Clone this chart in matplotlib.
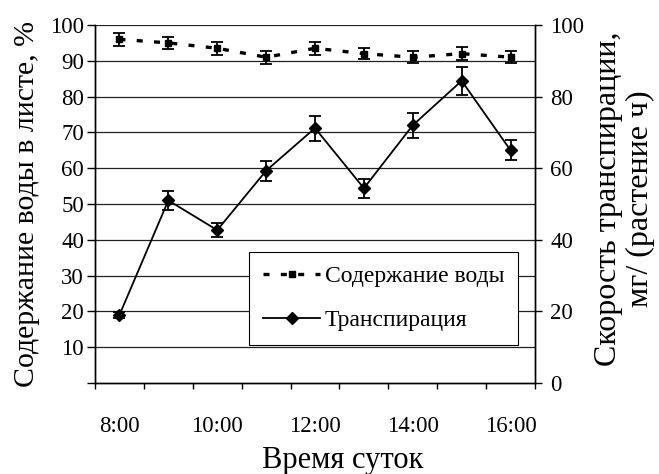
import numpy as np
import matplotlib.pyplot as plt
from matplotlib.lines import Line2D

plt.rcParams['font.family'] = ['Liberation Serif', 'DejaVu Serif']

hours = ['8:00', '9:00', '10:00', '11:00', '12:00', '13:00', '14:00', '15:00', '16:00']
water = [96, 95, 93.5, 91, 93.5, 92, 91, 92, 91]
water_err = [1.8, 1.7, 1.8, 1.8, 1.8, 1.6, 1.7, 1.8, 1.7]
transp = [19, 51, 42.7, 59.3, 71.2, 54.4, 72, 84.4, 65]
transp_err = [0.8, 2.6, 2.0, 2.8, 3.5, 2.6, 3.5, 4.0, 2.8]

x = np.arange(len(hours))
water_ls = (0, (1.8, 3.4))

fig = plt.figure(figsize=(6.59, 4.74), dpi=100)
ax = fig.add_axes([95 / 659, 1 - 383 / 474, 440 / 659, 358 / 474])
ax2 = ax.twinx()

# horizontal grid on the left scale
for v in range(10, 101, 10):
    ax.axhline(v, color='#222222', lw=0.9, zorder=0)

ax.errorbar(x, water, yerr=water_err, color='black', lw=2.4, ls=water_ls,
            marker='s', ms=4.5, elinewidth=1.3, capsize=4, capthick=1.3,
            zorder=3)
ax.errorbar(x, transp, yerr=transp_err, color='black', lw=1.3, ls='-',
            marker='D', ms=6, elinewidth=1.3, capsize=4, capthick=1.3,
            zorder=3)

ax.set_xlim(-0.5, len(hours) - 0.5)
ax.set_ylim(0, 100)
ax2.set_ylim(0, 100)

ax.set_yticks(range(0, 101, 10))
ax.set_yticklabels([''] + [str(v) for v in range(10, 101, 10)])
ax2.set_yticks(range(0, 101, 20))

ax.set_xticks(x[::2])
ax.set_xticklabels(hours[::2])
ax.set_xticks(np.arange(-0.5, len(hours), 1), minor=True)
ax.tick_params(axis='x', which='major', length=0, pad=24, labelsize=16.5)
ax.tick_params(axis='x', which='minor', length=4, width=1, direction='out')
ax.tick_params(axis='y', length=6, width=1, labelsize=16.5, pad=2)
ax2.tick_params(axis='y', length=5, width=1, labelsize=16.5, pad=6)

for a in (ax, ax2):
    a.spines['top'].set_visible(False)
    for s in ('left', 'right', 'bottom'):
        a.spines[s].set_linewidth(1.0)

ax.set_xlabel('Время суток', fontsize=22)
ax.xaxis.set_label_coords(0.564, -0.175)
ax.set_ylabel('Содержание воды в листе, %', fontsize=21.5, labelpad=7)
ax2.set_ylabel('Скорость транспирации,\nмг/ (растение ч)', fontsize=23,
               linespacing=1.12)
ax2.yaxis.set_label_coords(1.135, 0.514)

handles = [
    Line2D([], [], color='black', lw=2.4, ls=water_ls, marker='s', ms=4.5),
    Line2D([], [], color='black', lw=1.3, ls='-', marker='D', ms=6),
]
leg = ax.legend(handles, ['Содержание воды', 'Транспирация'],
                loc='lower right', bbox_to_anchor=(0.962, 0.105), fontsize=17,
                frameon=True, fancybox=False, edgecolor='black',
                framealpha=1, handlelength=2.4, borderpad=0.6,
                labelspacing=0.95, handletextpad=0.2, borderaxespad=0)
leg.get_frame().set_linewidth(0.8)
leg.set_zorder(5)

fig.savefig('out.png', dpi=100)
